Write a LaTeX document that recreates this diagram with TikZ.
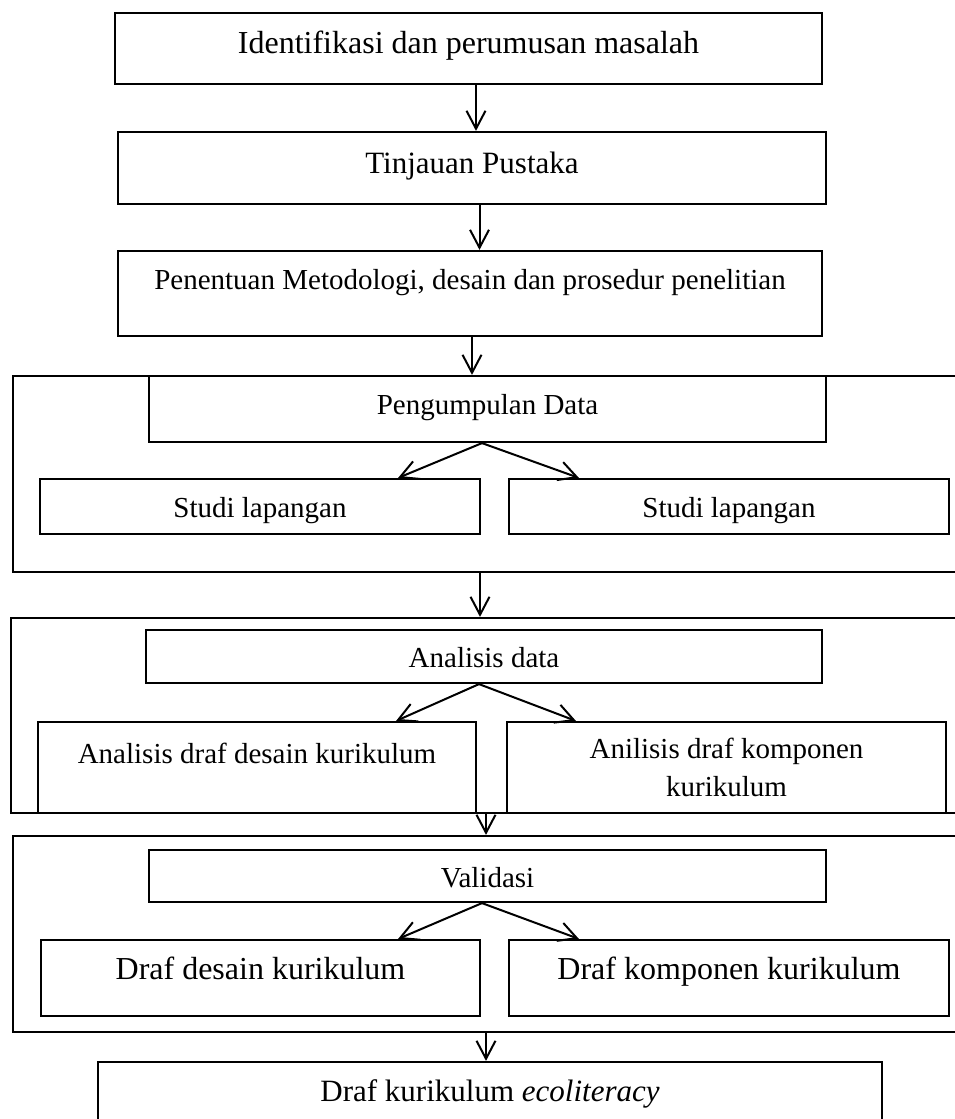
\documentclass[tikz,border=0pt]{standalone}
\usepackage{fontspec}
\setmainfont{Liberation Serif}
\usetikzlibrary{arrows.meta,positioning}

\begin{document}
\begin{tikzpicture}[x = 1pt, y = -1pt,
  box/.style = {draw, line width = 2.2pt, inner sep = 0pt, align = center, font = \fontsize{29}{38}\selectfont, text height = 24pt},
  big/.style = {font = \fontsize{32}{38}\selectfont},
  mid/.style = {font = \fontsize{31}{38}\selectfont},
  stage/.style = {draw, line width = 2.2pt, inner sep = 0pt},
  flow/.style = {-{Straight Barb[length = 18pt, width = 19pt]}, line width = 2pt}]
\useasboundingbox (0,0) rectangle (955,1119);
\clip (0,0) rectangle (955,1119);
\node[box, big, minimum width = 707pt, minimum height = 71pt, text depth = 13.8pt] (ident) at (468.5,48.5) {Identifikasi dan perumusan masalah};
\node[box, mid, minimum width = 708pt, minimum height = 72pt, text depth = 13.4pt] (tinjau) at (472,168) {Tinjauan Pustaka};
\node[box, minimum width = 704pt, minimum height = 85pt, text depth = 31.8pt] (metode) at (470,293.5) {Penentuan Metodologi, desain dan prosedur penelitian};
\draw[flow] ([xshift = 7.5pt]ident.south) -- ([xshift = 7.5pt]ident.south |- tinjau.north);
\draw[flow] ([xshift = 7.5pt]tinjau.south) -- ([xshift = 7.5pt]tinjau.south |- metode.north);

\node[stage, minimum width = 947pt, minimum height = 196pt] (kumpul) at (486.5,474) {};
\node[box, minimum width = 677pt, minimum height = 66pt, text depth = 12.8pt] (data) at (487.5,409) {Pengumpulan Data};
\node[box, minimum width = 440pt, minimum height = 55pt, text depth = 1.8pt] (studia) at (260,506.5) {Studi lapangan};
\node[box, minimum width = 440pt, minimum height = 55pt, text depth = 1.8pt] (studib) at (729,506.5) {Studi lapangan};
\draw[flow] ([xshift = 2pt]metode.south) -- ([xshift = 2pt]metode.south |- kumpul.north);
\draw[flow] ([xshift = -5.5pt]data.south) -- ([xshift = -83pt]studia.north east);
\draw[flow] ([xshift = -5.5pt]data.south) -- ([xshift = 71pt]studib.north west);

\node[stage, minimum width = 949pt, minimum height = 195pt] (analisis) at (485.5,715.5) {};
\node[box, minimum width = 676pt, minimum height = 53pt, text depth = 1.8pt] (andata) at (484,656.5) {Analisis data};
\node[box, minimum width = 438pt, minimum height = 91pt, text depth = 31.8pt] (desain) at (257,767.5) {Analisis draf desain kurikulum};
\node[box, minimum width = 439pt, minimum height = 91pt, text height = {}, text depth = {}] (komponen) at (726.5,767.5) {Anilisis draf komponen\\kurikulum};
\draw[flow] ([xshift = -6.5pt]kumpul.south) -- ([xshift = -6.5pt]kumpul.south |- analisis.north);
\draw[flow] ([xshift = -5pt]andata.south) -- ([xshift = -81pt]desain.north east);
\draw[flow] ([xshift = -5pt]andata.south) -- ([xshift = 70pt]komponen.north west);

\node[stage, minimum width = 947pt, minimum height = 196pt] (validasi) at (486.5,934) {};
\node[box, minimum width = 677pt, minimum height = 52pt, text depth = 0.8pt] (valid) at (487.5,876) {Validasi};
\node[box, big, minimum width = 439pt, minimum height = 76pt, text depth = 20.8pt] (drafa) at (260.5,978) {Draf desain kurikulum};
\node[box, big, minimum width = 440pt, minimum height = 76pt, text depth = 20.8pt] (drafb) at (729,978) {Draf komponen kurikulum};
\draw[flow] ([xshift = 0.5pt]analisis.south) -- ([xshift = 0.5pt]analisis.south |- validasi.north);
\draw[flow] ([xshift = -5.5pt]valid.south) -- ([xshift = -83pt]drafa.north east);
\draw[flow] ([xshift = -5.5pt]valid.south) -- ([xshift = 71pt]drafb.north west);

\node[box, mid, minimum width = 784pt, minimum height = 64pt, text depth = 9.4pt] (hasil) at (490,1094) {Draf kurikulum \textit{ecoliteracy}};
\draw[flow] ([xshift = -0.5pt]validasi.south) -- ([xshift = -0.5pt]validasi.south |- hasil.north);
\end{tikzpicture}
\end{document}
